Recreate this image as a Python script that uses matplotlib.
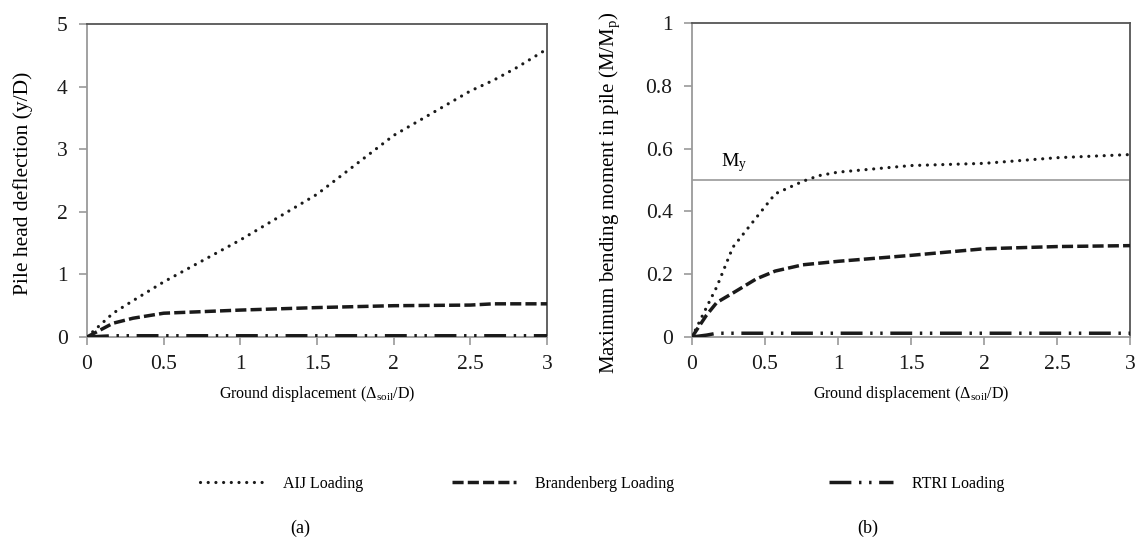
import numpy as np
import matplotlib.pyplot as plt

plt.rcParams['font.family'] = ['Liberation Serif', 'DejaVu Serif']
plt.rcParams['mathtext.fontset'] = 'custom'
plt.rcParams['mathtext.rm'] = 'Liberation Serif'
plt.rcParams['mathtext.it'] = 'Liberation Serif:italic'

# (a) pile head deflection y/D vs ground displacement
x_defl = [0, 0.17, 0.3, 0.5, 1.0, 1.5, 2.0, 2.5, 2.65, 2.8, 3.0]
aij_defl = [0, 0.38, 0.58, 0.88, 1.55, 2.28, 3.22, 3.93, 4.1, 4.3, 4.6]
bra_defl = [0, 0.22, 0.3, 0.38, 0.43, 0.47, 0.5, 0.51, 0.53, 0.53, 0.53]
rtri_defl = [0, 0.02, 0.02, 0.02, 0.02, 0.02, 0.02, 0.02, 0.02, 0.02, 0.02]

# (b) maximum bending moment M/Mp vs ground displacement
x_mom = [0, 0.1, 0.17, 0.28, 0.44, 0.57, 0.76, 0.87, 1.0, 1.5, 2.0, 2.5, 3.0]
aij_mom = [0, 0.095, 0.16, 0.286, 0.38, 0.456, 0.496, 0.514, 0.525, 0.546, 0.553, 0.571, 0.581]
bra_mom = [0, 0.07, 0.11, 0.14, 0.185, 0.21, 0.23, 0.235, 0.241, 0.26, 0.281, 0.288, 0.291]
rtri_mom = [0, 0.006, 0.012, 0.012, 0.012, 0.012, 0.012, 0.012, 0.012, 0.012, 0.012, 0.012, 0.012]
m_yield = 0.5

labels = ['AIJ Loading', 'Brandenberg Loading', 'RTRI Loading']

styles = [
    dict(color='#1a1a1a', lw=2.3, ls=(0, (0.01, 2.4)), dash_capstyle='round', zorder=3),
    dict(color='#1a1a1a', lw=2.5, ls=(0, (3.2, 1.2)), zorder=3),
    dict(color='#1a1a1a', lw=2.5, ls=(0, (6.3, 2.2, 0.7, 2.2, 0.7, 2.2)), zorder=3),
]

fig = plt.figure(figsize=(11.42, 5.54), dpi=100)
ax1 = fig.add_axes([87 / 1142, 1 - 337 / 554, 460 / 1142, 313 / 554])
ax2 = fig.add_axes([692 / 1142, 1 - 337 / 554, 438 / 1142, 314 / 554])


def style_axes(ax):
    ax.set_xlim(0, 3)
    ax.set_xticks([0, 0.5, 1, 1.5, 2, 2.5, 3])
    ax.set_xticklabels(['0', '0.5', '1', '1.5', '2', '2.5', '3'])
    for s in ['left', 'bottom']:
        ax.spines[s].set_color('#9a9a9a')
        ax.spines[s].set_linewidth(1.3)
    for s in ['top', 'right']:
        ax.spines[s].set_color('#555555')
        ax.spines[s].set_linewidth(1.3)
    ax.tick_params(axis='both', direction='out', color='#9a9a9a', width=1.2,
                   length=6, labelsize=15.5, colors='#1a1a1a')
    ax.tick_params(axis='x', pad=7)
    ax.tick_params(axis='y', pad=8)
    ax.set_xlabel(r'Ground displacement ($\Delta_{\mathrm{soil}}$/D)',
                  fontsize=11.5, labelpad=7)


handles = []
for ys, st, lab in zip([aij_defl, bra_defl, rtri_defl], styles, labels):
    h, = ax1.plot(x_defl, ys, label=lab, **st)
    handles.append(h)
ax1.set_ylim(0, 5)
ax1.set_yticks(range(6))
style_axes(ax1)
ax1.set_ylabel('Pile head deflection (y/D)', fontsize=15.5)
ax1.yaxis.set_label_coords(-0.118, 0.49)

for ys, st in zip([aij_mom, bra_mom, rtri_mom], styles):
    ax2.plot(x_mom, ys, **st)
ax2.axhline(m_yield, color='#9a9a9a', lw=1.2)
ax2.text(0.2, m_yield + 0.02, r'M$_\mathrm{y}$', fontsize=14, va='bottom')
ax2.set_ylim(0, 1)
ax2.set_yticks([0, 0.2, 0.4, 0.6, 0.8, 1])
ax2.set_yticklabels(['0', '0.2', '0.4', '0.6', '0.8', '1'])
style_axes(ax2)
ax2.set_ylabel(r'Maximum bending moment in pile (M/M$_\mathrm{p}$)', fontsize=15)
ax2.yaxis.set_label_coords(-0.16, 0.46)

# legend entries spread across the bottom
for h, x0 in zip(handles, [200 / 1142, 452 / 1142, 829 / 1142]):
    fig.legend(handles=[h], loc='center left', bbox_to_anchor=(x0, 1 - 484 / 554),
               frameon=False, fontsize=11.5, handlelength=4.0, handletextpad=1.2,
               borderaxespad=0, borderpad=0)

fig.text(300 / 1142, 1 - 528 / 554, '(a)', ha='center', va='center', fontsize=13)
fig.text(868 / 1142, 1 - 528 / 554, '(b)', ha='center', va='center', fontsize=13)

fig.savefig('out.png', dpi=100)
